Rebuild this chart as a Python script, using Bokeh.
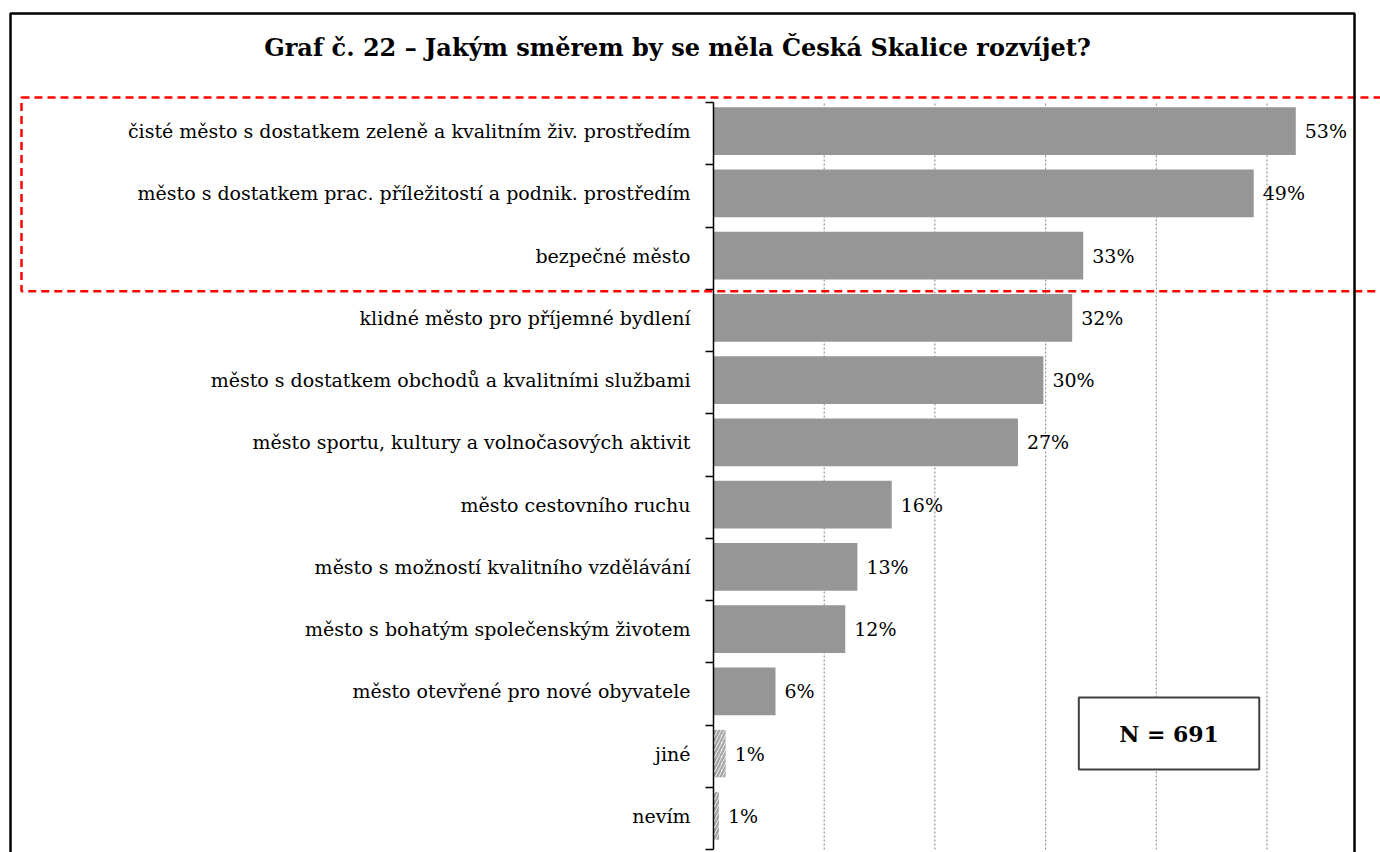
from bokeh.plotting import figure
from bokeh.models import ColumnDataSource, FixedTicker, BoxAnnotation, Label, Range1d, LinearAxis
from bokeh.embed import file_html
from bokeh.resources import INLINE
from bokeh.core.properties import value

title_text = "Graf č. 22 – Jakým směrem by se měla Česká Skalice rozvíjet?"

categories = [
    "čisté město s dostatkem zeleně a kvalitním živ. prostředím",
    "město s dostatkem prac. příležitostí a podnik. prostředím",
    "bezpečné město",
    "klidné město pro příjemné bydlení",
    "město s dostatkem obchodů a kvalitními službami",
    "město sportu, kultury a volnočasových aktivit",
    "město cestovního ruchu",
    "město s možností kvalitního vzdělávání",
    "město s bohatým společenským životem",
    "město otevřené pro nové obyvatele",
    "jiné",
    "nevím",
]
values = [52.6, 48.8, 33.4, 32.4, 29.8, 27.5, 16.1, 13.0, 11.9, 5.6, 1.1, 0.5]
value_labels = ["53%", "49%", "33%", "32%", "30%", "27%", "16%", "13%", "12%", "6%", "1%", "1%"]
hatched_categories = ["jiné", "nevím"]
grid_ticks = [10, 20, 30, 40, 50]
highlighted_top = 3          # first three categories are framed in red
n_label = "N = 691"

# ---- layout constants (canvas pixels) ----
W, H = 1380, 852
AXIS_PX = 713        # x position of the value axis (0 %)
PX_PER_PCT = 11.07
PLOT_TOP_PX = 102    # top category boundary
CAT_PX = 62.25       # height of one category slot
BAR_SHIFT = 2.5 / CAT_PX   # bars sit slightly above the slot centre

n = len(categories)
x0 = -AXIS_PX / PX_PER_PCT
x1 = (W - AXIS_PX) / PX_PER_PCT
y1 = n + PLOT_TOP_PX / CAT_PX
y0 = y1 - H / CAT_PX


def dx(px):
    return x0 + px / PX_PER_PCT


def dy(py):
    return y1 - py / CAT_PX


ypos = [n - 1 - i + 0.5 + BAR_SHIFT for i in range(n)]

solid = dict(x=[], y=[])
hatch = dict(x=[], y=[])
for c, v, y in zip(categories, values, ypos):
    d = hatch if c in hatched_categories else solid
    d["x"].append(v)
    d["y"].append(y)

SERIF = "DejaVu Serif"

p = figure(width=W, height=H, output_backend="svg", toolbar_location=None,
           x_range=Range1d(x0, x1), y_range=Range1d(y0, y1),
           x_axis_location=None, y_axis_location=None,
           min_border=0)
p.outline_line_color = None
p.background_fill_color = "white"
p.border_fill_color = "white"
p.grid.visible = False

# vertical dotted grid lines (only inside plot area)
p.segment(x0=grid_ticks, y0=[0] * len(grid_ticks), x1=grid_ticks, y1=[n] * len(grid_ticks),
          line_color="#808080", line_dash="2 2", line_width=1)

p.hbar(y="y", right="x", left=0, height=0.765, source=ColumnDataSource(solid),
       fill_color="#969696", line_color=None)
p.hbar(y="y", right="x", left=0, height=0.765, source=ColumnDataSource(hatch),
       fill_color="white", line_color=None, hatch_pattern="/",
       hatch_color="#a8a8a8", hatch_scale=7, hatch_weight=2.5)

p.text(x=values, y=ypos, text=value_labels, x_offset=9,
       text_baseline="middle", text_align="left",
       text_font=value(SERIF), text_font_size="19px", text_color="#000000")

# category axis fixed at 0 %, ticks between categories
ax = LinearAxis(fixed_location=0, bounds=(0, n))
ax.ticker = FixedTicker(ticks=ypos, minor_ticks=list(range(n + 1)))
ax.major_label_overrides = {y: c for y, c in zip(ypos, categories)}
ax.major_tick_line_color = None
ax.major_tick_out = 8
ax.major_tick_in = 0
ax.minor_tick_line_color = "black"
ax.minor_tick_line_width = 1.5
ax.minor_tick_out = 8
ax.minor_tick_in = 0
ax.axis_line_color = "black"
ax.axis_line_width = 1.5
ax.major_label_standoff = 15
ax.major_label_text_font = SERIF
ax.major_label_text_font_size = "19px"
ax.major_label_text_color = "#000000"
p.add_layout(ax, "left")

# N box
p.add_layout(BoxAnnotation(left=33.0, right=49.3, top=dy(697), bottom=dy(769),
                           fill_color="white", fill_alpha=1.0,
                           line_color="#404040", line_alpha=1.0, line_width=2))
p.add_layout(Label(x=41.15, y=(dy(697) + dy(769)) / 2, text=n_label,
                   text_align="center", text_baseline="middle",
                   text_font=SERIF, text_font_style="bold", text_font_size="22px",
                   text_color="#000000"))

# title
p.add_layout(Label(x=dx(677), y=dy(47), text=title_text,
                   text_align="center", text_baseline="middle",
                   text_font=SERIF, text_font_style="bold", text_font_size="24px",
                   text_color="#000000"))

# highlight box around the top categories
p.add_layout(BoxAnnotation(left=dx(21), right=dx(1420),
                           top=n + 5 / CAT_PX, bottom=n - highlighted_top - 2 / CAT_PX,
                           fill_alpha=0, line_color="#ff0000", line_alpha=1.0,
                           line_width=2.5, line_dash="8 5"))
# outer chart frame
p.add_layout(BoxAnnotation(left=dx(10), right=dx(1354), top=dy(13), bottom=dy(920),
                           fill_alpha=0, line_color="#000000", line_alpha=1.0,
                           line_width=2.5))

open("out.html", "w").write(file_html(p, INLINE))
